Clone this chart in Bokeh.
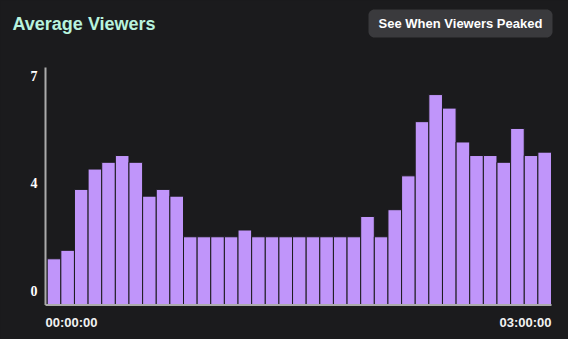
import numpy as np
from bokeh.plotting import figure
from bokeh.models import ColumnDataSource, Range1d, Label
from bokeh.embed import file_html
from bokeh.resources import INLINE

# ---- data ----
times = ["00:00:00", "00:05:00", "00:10:00", "00:15:00", "00:20:00", "00:25:00",
         "00:30:00", "00:35:00", "00:40:00", "00:45:00", "00:50:00", "00:55:00",
         "01:00:00", "01:05:00", "01:10:00", "01:15:00", "01:20:00", "01:25:00",
         "01:30:00", "01:35:00", "01:40:00", "01:45:00", "01:50:00", "01:55:00",
         "02:00:00", "02:05:00", "02:10:00", "02:15:00", "02:20:00", "02:25:00",
         "02:30:00", "02:35:00", "02:40:00", "02:45:00", "02:50:00", "02:55:00",
         "03:00:00"]
viewers = [1.35, 1.6, 3.4, 4.0, 4.2, 4.4, 4.2, 3.2, 3.4, 3.2,
           2.0, 2.0, 2.0, 2.0, 2.2, 2.0, 2.0, 2.0, 2.0, 2.0,
           2.0, 2.0, 2.0, 2.6, 2.0, 2.8, 3.8, 5.4, 6.2, 5.8,
           4.8, 4.4, 4.4, 4.2, 5.2, 4.4, 4.5]
y_tick_labels = ["0", "4", "7"]
y_tick_pos = [0.41, 3.59, 6.76]
y_max = 7
title_text = "Average Viewers"
button_text = "See When Viewers Peaked"

BG = "#1b1b1d"
BAR = "#c095fa"
AXIS = "#ababab"
BTN = "#3a3a3d"

W, H = 568, 339
# layout (pixels)
PX_PER_BAR = 13.63
BAR0_LEFT = 46.7
BASE_FROM_BOTTOM = 35
PX_PER_UNIT = 33.86
BTN_L, BTN_R, BTN_T, BTN_B, BTN_RAD = 368, 552, 9, 37, 6

n = len(viewers)
x0 = -0.5 - BAR0_LEFT / PX_PER_BAR
x1 = x0 + W / PX_PER_BAR
y0 = -BASE_FROM_BOTTOM / PX_PER_UNIT
y1 = y0 + H / PX_PER_UNIT

src = ColumnDataSource(dict(i=list(range(n)), v=viewers, t=times))

p = figure(width=W, height=H, output_backend="svg", toolbar_location=None,
           x_range=Range1d(x0, x1), y_range=Range1d(y0, y1),
           x_axis_type=None, y_axis_type=None, min_border=0)
p.background_fill_color = BG
p.border_fill_color = BG
p.outline_line_color = None
p.grid.visible = False
p.styles = {"background-color": BG}

p.vbar(x="i", top="v", width=1, source=src, fill_color=BAR,
       line_color=BG, line_width=1)

# axis lines
ax_x = -0.5 - 1.7 / PX_PER_BAR
ax_y = -0.5 / PX_PER_UNIT
p.segment(x0=[ax_x, ax_x], y0=[ax_y, ax_y], x1=[ax_x, n - 0.5], y1=[y_max, ax_y],
          line_color=AXIS, line_width=2)

# y tick labels
for pos, txt in zip(y_tick_pos, y_tick_labels):
    p.add_layout(Label(x=ax_x, y=pos, x_offset=-8, text=txt, text_align="right",
                       text_baseline="middle", text_color="#ffffff",
                       text_font="Liberation Serif", text_font_style="bold",
                       text_font_size="14px"))

# x tick labels (first & last time)
p.add_layout(Label(x=ax_x, y=ax_y, y_offset=-17, text=times[0], text_align="left",
                   text_baseline="middle", text_color="#f2f2f2",
                   text_font="Liberation Sans", text_font_style="bold",
                   text_font_size="13px"))
p.add_layout(Label(x=n - 0.5, y=ax_y, y_offset=-17, text=times[-1], text_align="right",
                   text_baseline="middle", text_color="#f2f2f2",
                   text_font="Liberation Sans", text_font_style="bold",
                   text_font_size="13px"))

# rounded button background (pixel outline converted to data space)
bx, by = [], []
corners = [(BTN_L + BTN_RAD, BTN_T + BTN_RAD, 180),
           (BTN_R - BTN_RAD, BTN_T + BTN_RAD, 270),
           (BTN_R - BTN_RAD, BTN_B - BTN_RAD, 0),
           (BTN_L + BTN_RAD, BTN_B - BTN_RAD, 90)]
for cx, cy, a0 in corners:
    for k in range(9):
        a = np.radians(a0 + k * 90 / 8)
        px = cx + BTN_RAD * np.cos(a)
        py = cy + BTN_RAD * np.sin(a)
        bx.append(float(x0 + px / PX_PER_BAR))
        by.append(float(y0 + (H - py) / PX_PER_UNIT))
p.patch(x=bx, y=by, fill_color=BTN, line_color=None)

# title and button text (screen units, frame == canvas)
p.add_layout(Label(x=12, y=H - 23, x_units="screen", y_units="screen", text=title_text,
                   text_align="left", text_baseline="middle", text_color="#b8f3de",
                   text_font="Liberation Sans", text_font_style="bold",
                   text_font_size="18px"))
p.add_layout(Label(x=(BTN_L + BTN_R) / 2, y=H - 22.5, x_units="screen", y_units="screen",
                   text=button_text, text_align="center", text_baseline="middle",
                   text_color="#ffffff", text_font="Liberation Sans",
                   text_font_style="bold", text_font_size="13px"))

open("out.html", "w").write(file_html(p, INLINE))
